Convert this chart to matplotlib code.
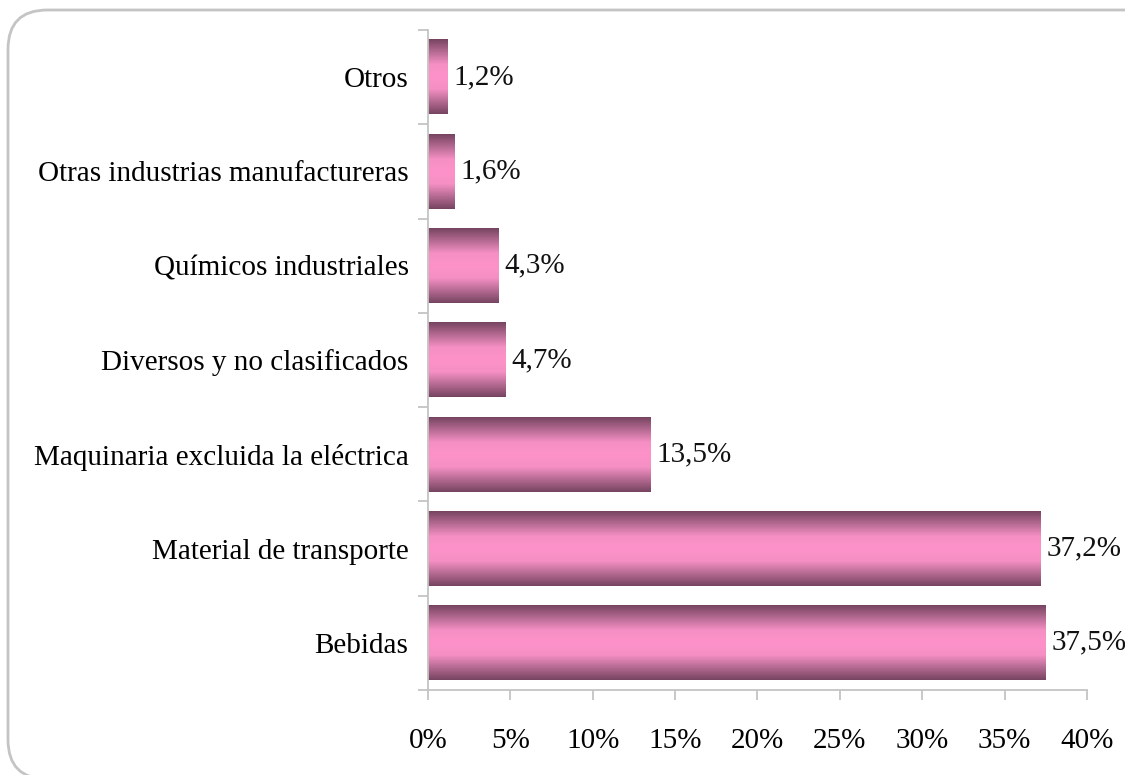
import numpy as np
import matplotlib
matplotlib.use("Agg")
import matplotlib.pyplot as plt
from matplotlib.colors import LinearSegmentedColormap
from matplotlib.patches import FancyBboxPatch

categorias = [
    "Bebidas",
    "Material de transporte",
    "Maquinaria excluida la eléctrica",
    "Diversos y no clasificados",
    "Químicos industriales",
    "Otras industrias manufactureras",
    "Otros",
]
valores = [37.5, 37.2, 13.5, 4.7, 4.3, 1.6, 1.2]
ticks_x = [0, 5, 10, 15, 20, 25, 30, 35, 40]

plt.rcParams["font.family"] = ["Liberation Serif", "DejaVu Serif"]
fs = 21

fig = plt.figure(figsize=(11.25, 7.75), dpi=100)
ax = fig.add_axes([428 / 1125, 1 - 690 / 775, (1087 - 428) / 1125, (690 - 30) / 775])

# marco redondeado
marco = FancyBboxPatch(
    (8 / 1125, -4 / 775), 1.2, (765 + 4) / 775,
    boxstyle="round,pad=0,rounding_size=0.035",
    transform=fig.transFigure, facecolor="none",
    edgecolor="#c4c4c4", linewidth=2, mutation_aspect=1125 / 775,
)
fig.patches.append(marco)

y = np.arange(len(categorias))
barras = ax.barh(y, valores, height=0.79, color="none", edgecolor="none")

cmap = LinearSegmentedColormap.from_list(
    "rosa", ["#764460", "#b56a92", "#f58fc4", "#fd92c9", "#f58fc4", "#b56a92", "#764460"]
)
grad = np.linspace(0, 1, 256).reshape(-1, 1)
for b, v in zip(barras, valores):
    x0, y0 = b.get_x(), b.get_y()
    ax.imshow(grad, cmap=cmap, aspect="auto", origin="lower",
              extent=[x0, x0 + b.get_width(), y0, y0 + b.get_height()], zorder=2)
    ax.text(x0 + b.get_width() + 0.35, y0 + b.get_height() / 2,
            f"{v:.1f}%".replace(".", ","), va="center", ha="left",
            fontsize=fs, color="#111111", clip_on=False)

ax.set_xlim(0, 40)
ax.set_ylim(-0.5, len(categorias) - 0.5)
ax.set_xticks(ticks_x)
ax.set_xticklabels([f"{t}%" for t in ticks_x], fontsize=fs)
ax.set_yticks(np.arange(len(categorias) + 1) - 0.5)
ax.set_yticklabels([])
ax.set_yticks(y, minor=True)
ax.set_yticklabels(categorias, minor=True, fontsize=fs)
ax.tick_params(axis="y", which="minor", length=0, pad=14)
ax.tick_params(axis="y", which="major", length=7, color="#c4c4c4", width=1.3)
ax.tick_params(axis="x", length=7, color="#c4c4c4", width=1.3, pad=20)

for s in ["top", "right"]:
    ax.spines[s].set_visible(False)
for s in ["left", "bottom"]:
    ax.spines[s].set_color("#c4c4c4")
    ax.spines[s].set_linewidth(1.3)

fig.savefig("out.png", dpi=100)
